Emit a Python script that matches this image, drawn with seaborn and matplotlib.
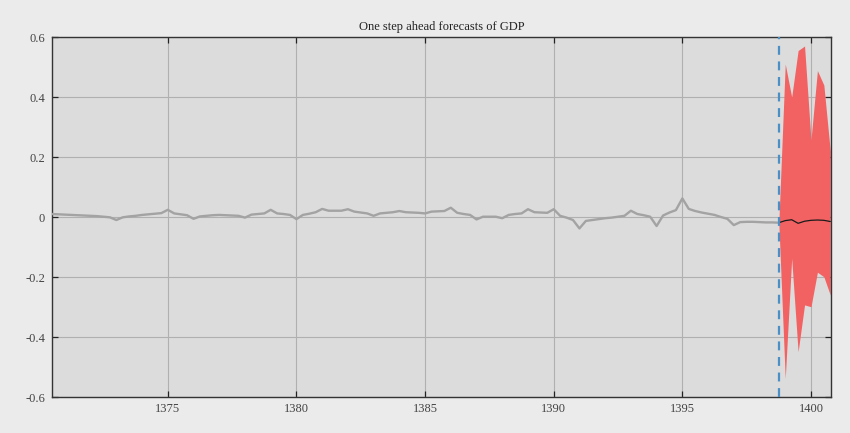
import numpy as np
import pandas as pd
import matplotlib
matplotlib.use("Agg")
import matplotlib.pyplot as plt
import seaborn as sns

# quarterly GDP growth, 1370Q3 .. 1398Q4 (Iranian calendar)
first_q = 1370.5
last_q = 1398.75
gdp = [
    0.010, 0.009, 0.008, 0.007, 0.006, 0.005, 0.004, 0.003, 0.001, -0.001,
    -0.010, -0.001, 0.002, 0.004, 0.007, 0.009, 0.011, 0.013, 0.024, 0.012,
    0.009, 0.006, -0.006, 0.002, 0.004, 0.006, 0.007, 0.006, 0.005, 0.004,
    -0.002, 0.008, 0.010, 0.012, 0.024, 0.012, 0.010, 0.007, -0.007, 0.007,
    0.011, 0.016, 0.027, 0.021, 0.021, 0.021, 0.026, 0.018, 0.015, 0.012,
    0.004, 0.012, 0.014, 0.016, 0.020, 0.016, 0.015, 0.014, 0.012, 0.018,
    0.019, 0.020, 0.031, 0.014, 0.010, 0.007, -0.008, 0.001, 0.001, 0.001,
    -0.004, 0.007, 0.010, 0.012, 0.026, 0.016, 0.015, 0.014, 0.026, 0.004,
    -0.002, -0.010, -0.038, -0.013, -0.010, -0.007, -0.004, -0.002, 0.001, 0.004,
    0.021, 0.010, 0.006, 0.001, -0.030, 0.005, 0.015, 0.023, 0.062, 0.027,
    0.020, 0.015, 0.011, 0.007, 0.000, -0.006, -0.027, -0.017, -0.016, -0.016,
    -0.017, -0.018, -0.018, -0.019,
]

# one step ahead forecasts with bands, 1398Q4 .. 1400Q4
fc_years = [1398.75, 1399.0, 1399.25, 1399.5, 1399.75, 1400.0, 1400.25, 1400.5, 1400.75]
fc_mean = [-0.019, -0.012, -0.009, -0.021, -0.014, -0.011, -0.010, -0.011, -0.015]
fc_upper = [-0.019, 0.510, 0.400, 0.555, 0.570, 0.257, 0.488, 0.440, 0.220]
fc_lower = [-0.019, -0.538, -0.138, -0.449, -0.293, -0.299, -0.184, -0.199, -0.260]
forecast_start = 1398.75

quarters = np.arange(first_q, last_q + 0.01, 0.25)
hist = pd.DataFrame({"year": quarters, "gdp": gdp})
fc = pd.DataFrame({"year": fc_years, "mean": fc_mean, "lo": fc_lower, "hi": fc_upper})

sns.set_theme(style="whitegrid")
plt.rcParams["font.family"] = ["Liberation Serif", "DejaVu Serif"]

fig = plt.figure(figsize=(8.5, 4.33), dpi=100, facecolor="#ebebeb")
ax = fig.add_axes([0.0612, 0.0831, 0.9165, 0.8314])
ax.set_facecolor("#dcdcdc")

ax.fill_between(fc["year"], fc["lo"], fc["hi"], color="#f26262", linewidth=0, zorder=2)
sns.lineplot(data=hist, x="year", y="gdp", ax=ax, color="#a3a3a3", linewidth=1.7, zorder=3)
sns.lineplot(data=fc, x="year", y="mean", ax=ax, color="#1a1a1a", linewidth=0.9, zorder=4)
ax.axvline(forecast_start, color="#4a8fc6", linestyle=(0, (4, 3)), linewidth=1.6, zorder=5)

ax.set_xlim(1370.5, 1400.78)
ax.set_ylim(-0.6, 0.6)
ax.set_xticks([1375, 1380, 1385, 1390, 1395, 1400])
ax.set_yticks([-0.6, -0.4, -0.2, 0, 0.2, 0.4, 0.6])
ax.set_yticklabels(["-0.6", "-0.4", "-0.2", "0", "0.2", "0.4", "0.6"])
ax.set_xlabel("")
ax.set_ylabel("")
ax.grid(True, color="#b0b0b0", linewidth=0.8)
ax.tick_params(direction="in", length=4, width=0.9, colors="#222222",
               labelsize=9, labelcolor="#444444", top=True, right=True,
               bottom=True, left=True)
ax.tick_params(axis="x", pad=4)
ax.tick_params(axis="y", pad=5)
for s in ax.spines.values():
    s.set_color("#333333")
    s.set_linewidth(1.0)

ax.set_title("One step ahead forecasts of GDP", fontsize=9, color="#222222", pad=5)

fig.savefig("out.png", dpi=100, facecolor=fig.get_facecolor())
